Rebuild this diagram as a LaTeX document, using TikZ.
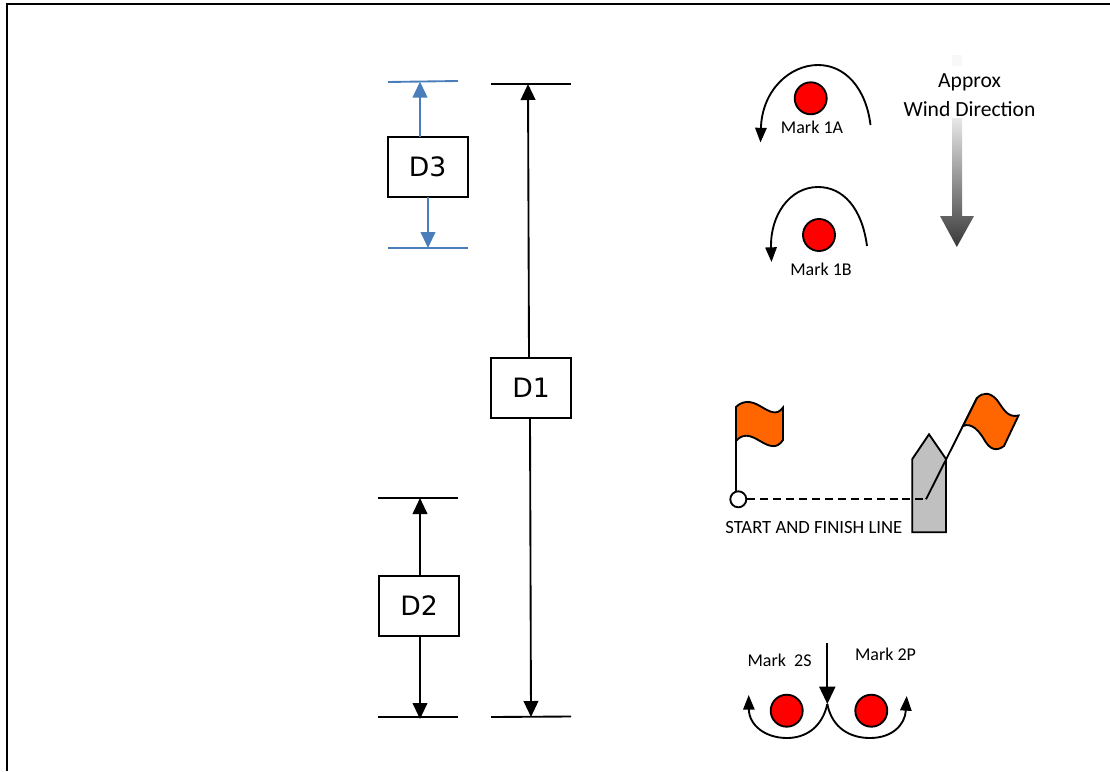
\documentclass[tikz,border=0pt]{standalone}
\usepackage{fontspec}
\setmainfont{Carlito}
\newfontfamily\boxfont{DejaVu Sans}
\usetikzlibrary{arrows.meta}
\definecolor{flagorange}{HTML}{FF6600}
\definecolor{markred}{HTML}{FF0000}
\definecolor{dimblue}{HTML}{4A7EBB}
\definecolor{hullgrey}{HTML}{C0C0C0}
\definecolor{windtop}{HTML}{E8E8E8}
\definecolor{windbottom}{HTML}{383838}
\definecolor{windfaint}{HTML}{F8F8F8}
\tikzset{
  dimbox/.style={draw=black,line width=1.5pt,fill=white,minimum width=60pt,minimum height=45pt,inner sep=0pt,font=\boxfont\fontsize{20}{22}\selectfont},
  dimline/.style={line width=1.4pt,-{Triangle[length=12pt,width=11pt]}},
  blackdim/.style={dimline,draw=black},
  bluedim/.style={dimline,draw=dimblue,-{Triangle[length=12pt,width=11pt,color=dimblue]}},
  tick/.style={line width=1.4pt,draw=black},
  bluetick/.style={line width=1.4pt,draw=dimblue},
  buoy/.style={circle,draw=black,fill=markred,line width=1.4pt,minimum size=24pt,inner sep=0pt},
  marklabel/.style={inner sep=0pt,anchor=base,font=\fontsize{13.5}{15}\selectfont},
  round/.style={line width=1.4pt,draw=black,-{Triangle[length=11pt,width=8.5pt]}},
  flagshape/.style={draw=black,fill=flagorange,line width=1.4pt},
  windlabel/.style={inner sep=0pt,fill=white,align=center,font=\fontsize{16.2}{21.75}\selectfont},
}
\begin{document}
\begin{tikzpicture}[x=0.75pt,y=-0.75pt]
\useasboundingbox (0,0) rectangle (1110,771);
% frame
\draw[line width=1.5pt,black] (7,771) -- (7,4) -- (1110,4);

% D3
\node[dimbox] (d3) at (427.5,167) {D3};
\coordinate (d3tl) at (388,82); \coordinate (d3tr) at (458,81);
\coordinate (d3bl) at (388,248); \coordinate (d3br) at (468,248);
\coordinate (d3t) at (420,81.6); \coordinate (d3b) at (428,248);
\coordinate (d3ts) at (420,137); \coordinate (d3bs) at (428,197);
\draw[bluetick] (d3tl) -- (d3tr);
\draw[bluetick] (d3bl) -- (d3br);
\draw[bluedim] (d3ts) -- (d3t);
\draw[bluedim] (d3bs) -- (d3b);

% D1
\node[dimbox] (d1) at (531,388) {D1};
\coordinate (d1tl) at (491,84); \coordinate (d1tr) at (571,84);
\coordinate (d1bl) at (491,717); \coordinate (d1br) at (571,716.5);
\coordinate (d1t) at (528,84); \coordinate (d1b) at (531,717);
\coordinate (d1ts) at (529,358); \coordinate (d1bs) at (530,418);
\draw[tick] (d1tl) -- (d1tr);
\draw[tick] (d1bl) -- (d1br);
\draw[blackdim] (d1ts) -- (d1t);
\draw[blackdim] (d1bs) -- (d1b);

% D2
\node[dimbox] (d2) at (419,606) {D2};
\coordinate (d2tl) at (378,498); \coordinate (d2tr) at (458,498);
\coordinate (d2bl) at (378,717); \coordinate (d2br) at (458,717);
\coordinate (d2t) at (420,498); \coordinate (d2b) at (420,719);
\draw[tick] (d2tl) -- (d2tr);
\draw[tick] (d2bl) -- (d2br);
\draw[blackdim] (d2.north -| d2t) -- (d2t);
\draw[blackdim] (d2.south -| d2b) -- (d2b);

% Mark 1A
\node[buoy] (m1a) at (810.7,98.3) {};
\node[marklabel] (m1alabel) at (812,133.7) {Mark 1A};
\coordinate (m1as) at (870.5,125);
\coordinate (m1ae) at (760.5,142.5);
\draw[round] (m1as) .. controls (866,88) and (845,65) .. (818,65)
  .. controls (790,65) and (762,90) .. (m1ae);

% Mark 1B
\node[buoy] (m1b) at (819,235) {};
\node[marklabel] (m1blabel) at (821,275) {Mark 1B};
\coordinate (m1bs) at (867,246);
\coordinate (m1be) at (771.5,262);
\draw[round] (m1bs) .. controls (862,208) and (843,187) .. (818,187)
  .. controls (790,187) and (770,215) .. (m1be);

% Wind
\fill[windfaint] (952,55) rectangle (962,66);
\shade[top color=windtop,bottom color=windbottom]
  (952,118) -- (962,118) -- (962,216) -- (974,216) -- (956.8,247) -- (940,216) -- (952,216) -- cycle;
\node[windlabel] (wind) at (969.5,95) {Approx\\Wind Direction};

% Start flag
\draw[line width=1.4pt] (736,407) -- (736,492);
\draw[flagshape] (736,407) .. controls (742,401) and (750,400) .. (760,406)
  .. controls (770,412) and (777,416) .. (783,407.5)
  -- (783,440) .. controls (777,449) and (770,447) .. (760,441)
  .. controls (750,435) and (743,433) .. (736,441) -- cycle;
\node[circle,draw=black,fill=white,line width=1.4pt,minimum size=12pt,inner sep=0pt] (pin) at (738.3,499.3) {};

% Boat
\draw[line width=1.4pt,draw=black,fill=hullgrey] (912.3,459) -- (929,434.3) -- (946,459) -- (946,532.3) -- (912.3,532.3) -- cycle;
\coordinate (boatpole) at (926,499.3);
\coordinate (poletop) at (977,398);
\draw[line width=1.4pt] (boatpole) -- (poletop);
\draw[flagshape] (977,398) .. controls (983,392) and (990,392) .. (997,400)
  .. controls (1004,410) and (1008,418) .. (1018.5,415.5)
  -- (1004,446) .. controls (996,452) and (990,449) .. (985,441)
  .. controls (980,432) and (972,422) .. (963,426) -- cycle;
\draw[line width=1.4pt,dash pattern=on 6pt off 3.7pt] (pin) -- (boatpole);

\node[inner sep=0pt,anchor=base,font=\fontsize{14}{16}\selectfont] (startlabel) at (813.8,533.3) {START AND FINISH LINE};

% Mark 2
\node[buoy] (m2s) at (786.7,710.7) {};
\node[buoy] (m2p) at (871.3,710.7) {};
\node[marklabel] (m2slabel) at (779.5,666) {Mark\ \ 2S};
\node[marklabel] (m2plabel) at (885.5,660.7) {Mark 2P};
\coordinate (m2top) at (827.3,643);
\coordinate (m2tip) at (827.3,704);
\coordinate (m2l) at (748.7,695);
\coordinate (m2r) at (906.7,696);
\draw[line width=1.4pt,-{Triangle[length=13pt,width=12pt]}] (m2top) -- (m2tip);
\draw[round] (m2tip) .. controls (822,728) and (805,738) .. (787,738)
  .. controls (765,738) and (749,725) .. (m2l);
\draw[round] (m2tip) .. controls (832,728) and (850,738) .. (870,738)
  .. controls (892,738) and (905,725) .. (m2r);
\end{tikzpicture}
\end{document}
